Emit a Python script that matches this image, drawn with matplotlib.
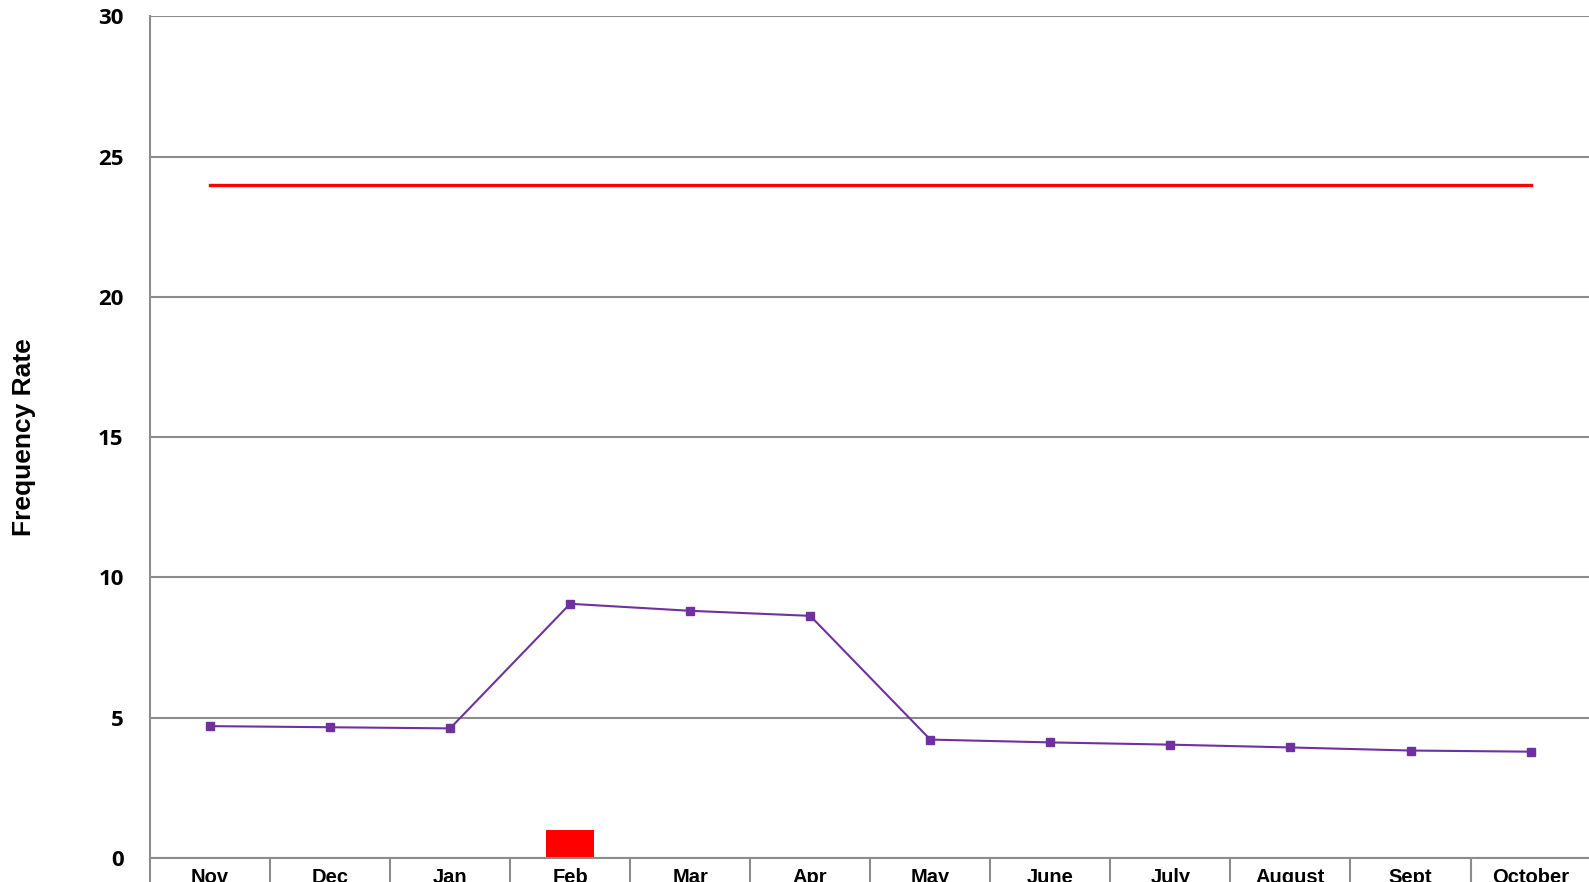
import matplotlib.pyplot as plt
import numpy as np

months = ["Nov", "Dec", "Jan", "Feb", "Mar", "Apr", "May", "June", "July",
          "August", "Sept", "October"]
frequency_rate = [4.70, 4.66, 4.62, 9.06, 8.81, 8.63, 4.22, 4.12, 4.04, 3.94, 3.83, 3.79]
target = [24] * len(months)
incidents = [0, 0, 0, 1, 0, 0, 0, 0, 0, 0, 0, 0]

fig = plt.figure(figsize=(15.89, 8.82), dpi=100)
ax = fig.add_axes([0.0944, 0.0272, 0.9066, 0.9544])

x = np.arange(len(months))
ax.bar(x, incidents, width=0.4, color="#FF0000", zorder=2)
ax.plot(x, target, color="#FF0000", linewidth=2.4, zorder=3)
ax.plot(x, frequency_rate, color="#7030A0", linewidth=1.5, marker="s",
        markersize=5.5, zorder=4)

ax.set_xlim(-0.5, len(months) - 0.5)
ax.set_ylim(0, 30)
ax.set_yticks(range(0, 31, 5))
ax.yaxis.grid(True, color="#8c8c8c", linewidth=1.5)
ax.set_axisbelow(True)

# category separators as major ticks, labels on minor ticks
ax.set_xticks(np.arange(-0.5, len(months), 1.0))
ax.set_xticklabels([])
ax.set_xticks(x, minor=True)
ax.set_xticklabels(months, minor=True, fontfamily="Liberation Sans",
                   fontweight="bold", fontsize=14.5)
ax.tick_params(axis="x", which="major", length=30, width=1.5, color="#8c8c8c")
ax.tick_params(axis="x", which="minor", length=0, pad=7)
ax.tick_params(axis="y", length=0, pad=19)
for lab in ax.get_yticklabels():
    lab.set_fontfamily("Open Sans")
    lab.set_fontweight("bold")
    lab.set_fontsize(16)

for s in ["top", "right"]:
    ax.spines[s].set_visible(False)
for s in ["left", "bottom"]:
    ax.spines[s].set_color("#8c8c8c")
    ax.spines[s].set_linewidth(1.5)

ax.set_ylabel("Frequency Rate", fontfamily="Liberation Sans", fontweight="bold",
              fontsize=19, labelpad=45)

fig.savefig("out.png", dpi=100)
